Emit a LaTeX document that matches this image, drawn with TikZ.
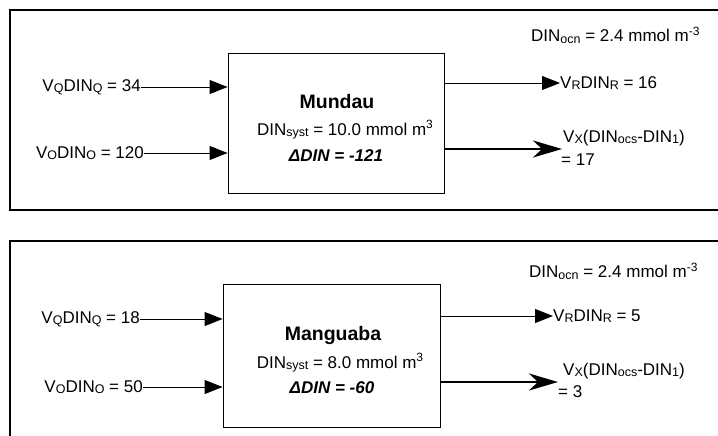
\documentclass[tikz,border=0pt]{standalone}
\usepackage{fontspec}
\setmainfont{Liberation Sans}
\usetikzlibrary{arrows.meta}
% lowered and raised indices
\newcommand\lo[1]{\raisebox{-1.5pt}{\fontsize{12.5}{13}\selectfont #1}}
\newcommand\hi[1]{\raisebox{6.5pt}{\fontsize{12}{12}\selectfont #1}}
\begin{document}
\begin{tikzpicture}[x=1pt,y=-1pt,
  every node/.style={inner sep=0pt, font=\fontsize{17}{20}\selectfont},
  frame/.style={line width=2pt, line cap=rect},
  lagoon/.style={draw, line width=0.9pt, minimum width=216pt, minimum height=140pt},
  title/.style={font=\fontsize{19.5}{22}\selectfont\bfseries},
  flux/.style={line width=0.9pt, -{Triangle[length=18pt,width=14pt]}},
  exch/.style={line width=2.6pt, -{Stealth[length=29pt,width=17pt,inset=9pt]}},
  lbl/.style={anchor=west}]
\useasboundingbox (0,0) rectangle (718,436);

% ---------- Mundau ----------
\draw[frame] (720,10) -- (10,10) -- (10,210) -- (720,210);
\node[lagoon] (mbox) at (336,123) {};
\node[title] (mname) at (337,102) {Mundau};
\node (msyst) at (345,130) {DIN\lo{syst} = 10.0 mmol m\hi{3}};
\node (mdelta) at (336,156) {\bfseries\itshape ΔDIN = -121};
\node[lbl] (mocn) at (531,35) {DIN\lo{ocn} = 2.4 mmol m\hi{-3}};
\node[anchor=east] (mq) at (141,87) {V\lo{Q}DIN\lo{Q} = 34};
\node[anchor=east] (mo) at (144,153) {V\lo{O}DIN\lo{O} = 120};
\node[lbl] (mr) at (560,83) {V\lo{R}DIN\lo{R} = 16};
\node[lbl] (mx) at (563,138) {V\lo{X}(DIN\lo{ocs}-DIN\lo{1})};
\node[lbl] (mxv) at (561,160) {= 17};
\coordinate (mxtip) at (562,149);
\draw[flux] (mq.east) -- (mq.east -| mbox.west);
\draw[flux] (mo.east) -- (mo.east -| mbox.west);
\draw[flux] (mbox.east |- mr.west) -- (mr.west);
\draw[exch] (mbox.east |- mxtip) -- (mxtip);

% ---------- Manguaba ----------
\draw[frame] (720,241) -- (10,241) -- (10,440);
\node[lagoon, minimum width=217pt, minimum height=143pt] (gbox) at (331.5,355.5) {};
\node[title] (gname) at (333,335) {Manguaba};
\node (gsyst) at (340,363) {DIN\lo{syst} = 8.0 mmol m\hi{3}};
\node (gdelta) at (332,388) {\bfseries\itshape ΔDIN = -60};
\node[lbl] (gocn) at (529,271) {DIN\lo{ocn} = 2.4 mmol m\hi{-3}};
\node[anchor=east] (gq) at (140,319) {V\lo{Q}DIN\lo{Q} = 18};
\node[anchor=east] (go) at (143,387) {V\lo{O}DIN\lo{O} = 50};
\node[lbl] (gr) at (553,316) {V\lo{R}DIN\lo{R} = 5};
\node[lbl] (gx) at (563,371) {V\lo{X}(DIN\lo{ocs}-DIN\lo{1})};
\node[lbl] (gxv) at (558,392) {= 3};
\coordinate (gxtip) at (558,382);
\draw[flux] (gq.east) -- (gq.east -| gbox.west);
\draw[flux] (go.east) -- (go.east -| gbox.west);
\draw[flux] (gbox.east |- gr.west) -- (gr.west);
\draw[exch] (gbox.east |- gxtip) -- (gxtip);
\end{tikzpicture}
\end{document}
